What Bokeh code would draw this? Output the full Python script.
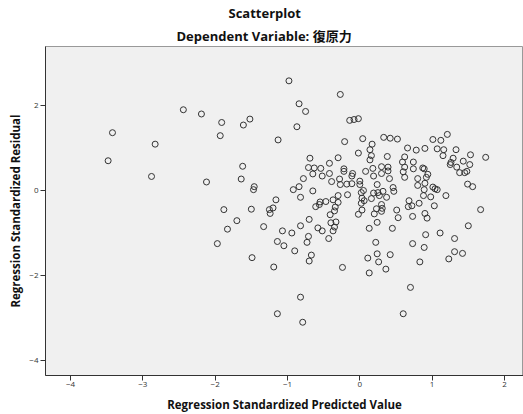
from bokeh.plotting import figure
from bokeh.models import Range1d, FixedTicker, Title, ColumnDataSource
from bokeh.embed import file_html
from bokeh.resources import INLINE

# Regression standardized predicted value (x) and residual (y)
pred = [-3.48, -3.42, -2.88, -2.83, -2.44, -2.19, -2.12, -1.91, -1.93, -1.52,
        -1.61, -1.62, -1.64, -1.46, -1.47, -1.13, -1.16, -1.88, -1.50, -1.20,
        -1.25, -1.24, -1.70, -1.83, -1.33, -1.97, -1.14, -1.49, -1.19, -1.14,
        -1.07, -0.94, -1.05, -0.90, -0.92, -0.84, -0.82, -0.82, -0.98, -0.84,
        -0.75, -0.87, -0.82, -0.79, -0.78, -0.71, -0.73, -0.67, -0.70, -0.58,
        -0.52, -0.70, -0.69, -0.71, -0.63, -0.54, -0.65, -0.52, -0.42, -0.42,
        -0.30, -0.27, -0.14, -0.08, -0.02, -0.21, 0.04, 0.17, 0.33, 0.42,
        0.52, -0.65, -0.39, -0.28, -0.27, -0.18, -0.11, 0.00, 0.00, 0.05,
        0.02, -0.17, -0.30, -0.30, -0.37, -0.34, -0.47, -0.55, -0.56, -0.61,
        -0.41, -0.35, -0.40, -0.33, -0.35, -0.37, -0.43, -0.24, -0.02, 0.03,
        0.02, 0.06, 0.03, 0.20, 0.23, 0.30, 0.31, 0.30, 0.24, 0.19,
        0.25, 0.27, 0.32, 0.37, 0.46, 0.47, 0.16, 0.24, 0.13, 0.22,
        0.24, 0.26, 0.11, 0.13, 0.36, 0.42, 0.45, 0.51, 0.53, -0.02,
        0.14, 0.16, 0.14, 0.38, 0.62, 0.59, 0.74, 0.66, 0.78, 0.90,
        1.01, 1.12, 1.21, 1.07, 1.16, 1.15, 1.33, 1.29, 1.43, 1.26,
        1.25, 1.52, 1.34, 1.38, 1.45, 1.48, 1.53, 1.74, -0.22, -0.22,
        -0.10, -0.11, 0.08, 0.18, 0.19, 0.30, 0.30, 0.39, 0.39, 0.41,
        0.62, 0.62, 0.60, 0.74, 0.87, 0.89, 0.94, 0.92, 0.80, 0.80,
        0.90, 0.89, 1.01, 1.04, 1.07, 0.88, 0.98, 1.19, 1.03, 0.82,
        0.68, 0.67, 0.72, 0.73, 0.90, 0.93, 1.49, 1.56, 1.67, 1.50,
        0.91, 0.73, 0.89, 0.83, 1.11, 1.31, 1.31, 1.42, 1.23, 0.70,
        0.60]
resid = [0.70, 1.36, 0.33, 1.09, 1.90, 1.80, 0.20, 1.60, 1.29, 1.68,
         1.54, 0.57, 0.27, 0.09, 0.02, 1.19, -0.22, -0.45, -0.44, -0.41,
         -0.45, -0.54, -0.71, -0.91, -0.85, -1.25, -1.20, -1.58, -1.80, -2.90,
         -0.95, -1.00, -1.30, -1.42, 0.02, 0.09, -0.16, -0.83, 2.58, 2.04,
         1.86, 1.50, -2.51, -3.10, 0.28, -1.08, -1.22, -1.52, -1.66, -0.88,
         -0.95, -0.68, 0.76, 0.54, 0.53, 0.52, 0.39, 0.34, 0.64, 0.40,
         0.77, 2.26, 1.65, 1.67, 1.69, 1.15, 1.22, 1.09, 1.25, 1.23,
         1.21, -0.01, 0.21, 0.27, 0.14, 0.15, 0.16, 0.22, 0.14, 0.00,
         -0.05, -0.10, -0.12, -0.28, -0.22, -0.39, -0.26, -0.27, -0.33, -0.38,
         -0.57, -0.48, -0.76, -0.74, -0.86, -0.95, -1.13, -1.81, -0.56, -0.46,
         -0.30, -0.24, -0.18, -0.55, -0.43, -0.33, -0.42, -0.49, 0.14, -0.06,
         -0.05, -0.12, -0.02, -0.16, 0.07, -0.02, -0.19, -0.75, -0.89, -1.22,
         -1.49, -1.68, -1.59, -1.94, -1.85, -1.51, -0.89, -0.46, -0.64, 0.88,
         0.96, 0.82, 0.72, 0.80, 0.79, 0.67, 0.67, 1.00, 0.95, 0.99,
         1.20, 1.18, 1.32, 0.98, 0.96, 0.82, 0.96, 0.76, 0.69, 0.66,
         0.61, 0.61, 0.55, 0.42, 0.42, 0.45, 0.84, 0.78, 0.51, 0.45,
         0.40, 0.34, 0.45, 0.52, 0.34, 0.56, 0.40, 0.55, 0.46, 0.28,
         0.55, 0.31, 0.44, 0.51, 0.53, 0.51, 0.38, 0.31, 0.28, 0.12,
         0.17, 0.02, 0.08, 0.04, 0.02, -0.12, -0.15, -0.12, -0.36, -0.30,
         -0.24, -0.38, -0.36, -0.61, -0.54, -0.65, 0.15, 0.09, -0.45, -0.83,
         -1.04, -1.25, -1.34, -1.68, -1.00, -1.13, -1.44, -1.48, -1.61, -2.28,
         -2.90]

x_ticks = [-4, -3, -2, -1, 0, 1, 2]
y_ticks = [-4, -2, 0, 2]

title_text = "Scatterplot"
subtitle_text = "Dependent Variable: 復原力"
x_label = "Regression Standardized Predicted Value"
y_label = "Regression Standardized Residual"

FONT = "'Open Sans', 'Noto Sans CJK TC', sans-serif"

src = ColumnDataSource(dict(x=pred, y=resid))

p = figure(width=523, height=414, output_backend="svg", toolbar_location=None,
           x_range=Range1d(-4.346, 2.263), y_range=Range1d(-4.353, 3.388),
           min_border=0, min_border_left=45, min_border_right=0,
           min_border_top=46, min_border_bottom=39)

p.background_fill_color = "#f0f0f0"
p.border_fill_color = "white"
p.outline_line_color = "#999999"
p.outline_line_width = 1
p.grid.visible = False

p.add_layout(Title(text=subtitle_text, align="left", offset=131, text_font=FONT,
                   text_font_size="13px", text_font_style="bold",
                   text_color="#111111", standoff=4), "above")
p.add_layout(Title(text=title_text, align="left", offset=183, text_font=FONT,
                   text_font_size="13px", text_font_style="bold",
                   text_color="#111111", standoff=2), "above")

for ax, lab, ticks in ((p.xaxis[0], x_label, x_ticks), (p.yaxis[0], y_label, y_ticks)):
    ax.ticker = FixedTicker(ticks=ticks)
    ax.axis_label = lab
    ax.axis_label_text_font = FONT
    ax.axis_label_text_font_size = "11.5px"
    ax.axis_label_text_font_style = "bold"
    ax.axis_label_text_color = "#111111"
    ax.major_label_text_font = FONT
    ax.major_label_text_font_size = "8px"
    ax.major_label_text_color = "#333333"
    ax.major_tick_out = 5
    ax.major_tick_in = 0
    ax.minor_tick_out = 0
    ax.minor_tick_in = 0
    ax.axis_line_color = "#333333"
    ax.major_tick_line_color = "#333333"

p.xaxis[0].major_label_standoff = 1
p.xaxis[0].axis_label_standoff = 7
p.yaxis[0].major_label_standoff = 2
p.yaxis[0].axis_label_standoff = 3

p.scatter("x", "y", source=src, marker="circle", size=6, fill_color=None,
          line_color="#333333", line_width=1)

open("out.html", "w").write(file_html(p, INLINE))
